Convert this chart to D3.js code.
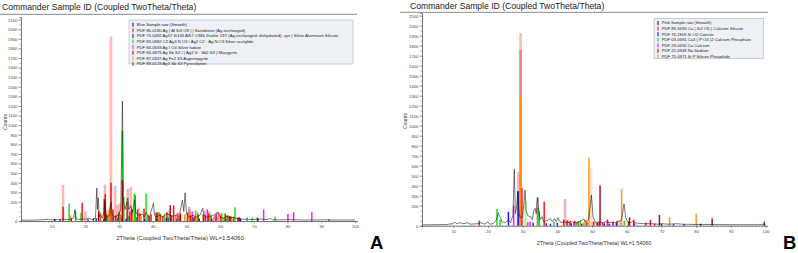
<!DOCTYPE html>
<html>
<head>
<meta charset="utf-8">
<script src="https://cdn.jsdelivr.net/npm/d3@7"></script>
<style>
  body { margin: 0; background: #fff; }
  svg { display: block; font-family: "Liberation Sans", Arial, sans-serif; }
</style>
</head>
<body>
<script>
// Tick values shared by both panels
var countTicks = [0, 200, 300, 400, 500, 600, 700, 800, 900, 1000, 1100, 1200, 1300, 1400, 1500, 1600, 1700, 1800, 1900, 2000, 2100];
var thetaTicks = [10, 20, 30, 40, 50, 60, 70, 80, 90, 100];

var chartTitle = "Commander Sample ID (Coupled TwoTheta/Theta)";
var xTitle = "2Theta (Coupled TwoTheta/Theta) WL=1.54060";

// ---------- Panel A ----------
var legendA = [
  "Blue Sample.raw (Smooth)",
  "PDF 86-0180 Ag ( Al Si3 O8 ) | Sanidinine (Ag-exchanged)",
  "PDF 73-0482 Ag57 Si135 Al57 O384 Zeolite 13Y (Ag-exchanged, dehydrated), syn | Silver Aluminum Silicate",
  "PDF 83-0882 C2 Ag3 N O3 / Ag2 C2 · Ag N O3 Silver acetylide",
  "PDF 84-0559 Ag I O4 Silver Iodate",
  "PDF 84-0875 Ag Sb S2 / ( Ag2 S · Sb2 S3 ) Miargyrite",
  "PDF 87-0347 Ag Fe2 S3 Argentopyrite",
  "PDF 89-0129 Ag3 Sb S3 Pyrostilpnite"
];

// smoothed scan, [2theta, counts]
var sampleA = [[1,8],[5,10],[8,14],[9,20],[9.5,12],[12,14],[13.3,20],[13.5,12],[15,16],[16.5,30],[16.9,120],[17.2,25],[18,15],[19,20],[20,18],[21,30],[21.5,22],[22,15],[23,30],[23.4,345],[23.6,120],[23.8,242],[24.1,40],[24.5,60],[25,30],[25.5,90],[25.8,210],[26.1,100],[26.5,40],[27.2,60],[27.6,200],[28,60],[28.5,50],[29,40],[29.5,60],[30,80],[30.5,120],[31,1250],[31.3,200],[31.8,120],[32.3,200],[32.6,240],[32.9,120],[33.5,160],[34,90],[34.6,220],[35,80],[36,60],[37,70],[37.5,40],[38,90],[39,40],[40.2,184],[40.5,60],[41,40],[42,60],[43,40],[44,80],[45,60],[46,50],[47,60],[48,80],[48.8,218],[49.2,100],[49.6,294],[50,80],[50.5,50],[51,40],[52,60],[53,40],[54,60],[54.8,132],[55.2,60],[56,40],[57,50],[58,60],[59.4,90],[60,40],[61,30],[62,50],[63,30],[64,40],[65,25],[66,20],[68,18],[70,15],[72,20],[74,15],[75,30],[75.5,12],[78,12],[80,15],[85,10],[90,12],[95,10],[100,10]];

var redA = [[13.4,150],[19.05,190],[24,107],[24.5,80],[25.6,230],[25.9,280],[27.6,398],[28.2,120],[29,60],[30,90],[30.5,60],[32.4,200],[33.2,100],[34.8,267],[35.5,120],[36.2,80],[37.4,130],[38.6,60],[39.5,70],[41.5,90],[42.3,70],[43,50],[44.2,90],[45.6,60],[46.2,163],[47.5,60],[48.2,80],[50.3,90],[51.2,60],[52.4,50],[53.5,70],[55.6,60],[56.5,80],[57.3,50],[58.8,70],[60.2,60],[61.5,80],[62.3,60],[63.2,50],[64,40],[65.2,35],[66,30]];
var redFaintA = [[13.4,375],[20,97],[27.6,1925],[28.8,370],[29.5,170],[30.2,180],[33.5,356],[35.8,140],[44.8,110],[47.2,90],[51,120],[56.8,100],[59.8,85]];
var blueA = [[10.9,20],[12.5,15],[15.8,25],[20.8,18],[23.2,30],[25.5,20],[27,25],[30.8,35],[32.1,25],[33.9,30],[37.6,20],[41.2,20],[44,30],[47,25],[51.8,20],[53.8,25],[57.5,20],[61.8,18],[66,15]];
var greenA = [[15.2,184],[17.1,100],[18.7,86],[31,940],[31.4,250],[34.5,287],[34.8,270],[38,287],[42,90],[43.5,70],[48,60],[52.7,110],[53.3,90],[57,70],[60.5,80],[62,60],[64.4,142],[68,38],[69.5,35],[71,40],[76.3,45]];
var magentaA = [[29.5,30],[30.6,40],[51.7,97],[56.2,121],[58.5,60],[72.9,121],[80.1,73],[81.8,93],[87.2,93],[92.3,20]];
var maroonA = [[23.9,80],[25.8,150],[26.4,60],[31,425],[33.8,120],[41,90],[45.2,166],[48.2,70],[55,70],[62.8,50],[65.6,40],[71.2,30]];
var maroonFaintA = [[25.8,380],[32.6,335],[50.8,148],[55.5,110],[59.2,95]];
var orangeA = [[15.5,62],[24.3,90],[26.8,114],[27.2,150],[30.3,55],[34,60],[36.5,50],[41.8,40],[46.8,55],[49.5,70],[50.6,80],[53,40],[58,45],[61,35],[63.5,30]];
var darkGreenA = [[22.4,30],[26.2,60],[28.3,45],[29.8,70],[33,50],[35.3,40],[39,45],[44.6,35],[52,40],[61.5,30]];

// ---------- Panel B ----------
var legendB = [
  "Pink Sample.raw (Smooth)",
  "PDF 89-5694 Ca ( Si2 O5 ) Calcium Silicate",
  "PDF 76-1805 Si O2 Coesite",
  "PDF 03-0681 Ca3 ( P O4 )2 Calcium Phosphate",
  "PDF 23-0430 Ca Calcium",
  "PDF 22-0948 Na Sodium",
  "PDF 75-0971 Si P Silicon Phosphide"
];

var sampleB = [[1,8],[5,10],[8,12],[10,20],[10.5,35],[11,20],[12,30],[13,20],[14,30],[15,15],[17,20],[18,30],[19,15],[20,40],[20.5,15],[21.5,20],[22.5,60],[23,130],[23.3,100],[23.6,80],[24,40],[25,30],[25.9,60],[26.5,30],[27.2,100],[27.6,564],[27.9,120],[28.3,200],[28.6,340],[28.9,150],[29.2,80],[30,90],[30.7,357],[31,150],[31.5,100],[32,90],[32.3,95],[32.8,60],[33.2,150],[33.6,174],[33.9,120],[34.3,284],[34.6,150],[35,60],[35.6,90],[36,40],[37,50],[38,70],[38.5,40],[39.2,70],[39.7,40],[40.2,80],[40.6,50],[41,30],[42,40],[43,30],[44,40],[45,30],[46,35],[47.6,65],[48,40],[49,60],[49.8,307],[50.3,80],[51,30],[52,40],[53,30],[54,40],[55,30],[56,35],[57,30],[58.5,60],[59.2,217],[59.7,80],[60.2,40],[61,30],[62,45],[62.3,30],[63,25],[65,20],[67,20],[69,15],[70,20],[72,15],[74,20],[76,15],[80,12],[85,12],[90,10],[95,10],[100,10]];

var redB = [[17.5,50],[29.8,374],[36.2,240],[41.8,60],[42.8,55],[43.6,45],[45,50],[46,40],[48.5,40],[50.5,40],[52,35],[53,30],[54.5,50],[56,40],[57.2,50],[60.5,40],[62,60],[65.5,30],[66.8,60],[68,20]];
var redFaintB = [[29.4,1925],[28.7,534],[43,60],[50.2,45],[58,50]];
var blueB = [[25.9,140],[28.7,347],[33,30],[36.8,25],[38,20],[40,30],[44,25],[47,20],[51.5,30],[53.5,25],[55,20],[57,25],[62,20],[70,20],[73.5,15],[76.5,15],[81.3,20]];
var greenB = [[22.6,167],[23.5,60],[34.4,180],[34.8,150],[39,40],[45.5,40],[46.6,50],[47.6,30],[59.3,50]];
var greenFaintB = [[30.8,240]];
var magentaB = [[27.4,200],[31.5,35],[32.2,40],[44.8,40],[54.4,64],[56,30],[62.2,25]];
var maroonB = [[52.3,404],[60.8,85],[69.4,107],[84.6,74],[99.6,40]];
var maroonFaintB = [[29.4,1757],[34.3,280],[42.2,267]];
var orangeB = [[29.4,1290],[48,60],[49.1,680],[58.5,367],[72.3,84],[80,120]];
var orangeFaintB = [[49.7,574]];

// ---------- drawing ----------
var svgWidth = 798, svgHeight = 253;
var svg = d3.select("body").append("svg")
  .attr("width", svgWidth)
  .attr("height", svgHeight);

var colors = {
  black: "#000000", red: "#ff0000", blue: "#0000ff", green: "#00e000",
  magenta: "#ff00ff", maroon: "#990000", orange: "#ff8c00", darkGreen: "#007a00"
};

function drawPanel(p) {
  var g = svg.append("g");
  var x = d3.scaleLinear().domain(p.xDomain).range(p.xRange);
  var y = d3.scaleLinear().domain(p.yDomain).range(p.yRange);

  // title + rule under it
  g.append("text")
    .attr("x", p.titleX).attr("y", p.titleY)
    .attr("font-size", 8.6).attr("fill", "#222")
    .text(chartTitle);
  g.append("line")
    .attr("x1", p.ruleX[0]).attr("x2", p.ruleX[1])
    .attr("y1", p.ruleY).attr("y2", p.ruleY)
    .attr("stroke", "#8a8a8a").attr("stroke-width", 1);

  // reference sticks: faint ones first, solid on top
  p.phases.forEach(function(ph) {
    if (ph.faint) {
      g.append("g").selectAll("rect").data(ph.faint).join("rect")
        .attr("x", d => x(d[0]) - 1.3).attr("width", 2.6)
        .attr("y", d => y(d[1])).attr("height", d => y(0) - y(d[1]))
        .attr("fill", ph.color).attr("opacity", 0.28);
    }
  });
  p.phases.forEach(function(ph) {
    if (ph.sticks) {
      g.append("g").selectAll("rect").data(ph.sticks).join("rect")
        .attr("x", d => x(d[0]) - 0.75).attr("width", 1.5)
        .attr("y", d => y(d[1])).attr("height", d => y(0) - y(d[1]))
        .attr("fill", ph.color).attr("opacity", 0.9);
    }
  });

  // smoothed scan
  var drawLine = d3.line().x(d => x(d[0])).y(d => y(d[1]));
  g.append("path")
    .attr("d", drawLine(p.sample))
    .attr("fill", "none").attr("stroke", "#111")
    .attr("stroke-width", 0.7).attr("opacity", 0.8);

  // y axis
  g.append("g").attr("transform", `translate(${p.xRange[0]},0)`)
    .call(d3.axisLeft(y).tickValues(d3.range(0, 2101, 50)).tickSize(1.5).tickFormat(""));
  var yMajor = g.append("g").attr("transform", `translate(${p.xRange[0]},0)`)
    .call(d3.axisLeft(y).tickValues(countTicks).tickSize(2.6).tickPadding(1).tickFormat(d3.format("d")));
  yMajor.select(".domain").remove();

  // x axis
  g.append("g").attr("transform", `translate(0,${p.yRange[0]})`)
    .call(d3.axisBottom(x).tickValues(d3.range(1, 101, 1)).tickSize(1.4).tickFormat(""));
  var xMajor = g.append("g").attr("transform", `translate(0,${p.yRange[0]})`)
    .call(d3.axisBottom(x).tickValues(thetaTicks).tickSize(2.4).tickPadding(1.5).tickFormat(d3.format("d")));
  xMajor.select(".domain").remove();

  g.selectAll(".domain").attr("stroke", "#555").attr("stroke-width", 0.8);
  g.selectAll(".tick line").attr("stroke", "#666").attr("stroke-width", 0.5);
  g.selectAll(".tick text").attr("font-size", 4.2).attr("fill", "#444")
    .attr("font-family", "Liberation Sans, Arial, sans-serif");

  // axis titles
  g.append("text")
    .attr("transform", `translate(${p.countsX},${p.countsY}) rotate(-90)`)
    .attr("text-anchor", "middle").attr("font-size", 5).attr("fill", "#333")
    .text("Counts");
  g.append("text")
    .attr("x", p.xTitleX).attr("y", p.xTitleY)
    .attr("text-anchor", "middle").attr("font-size", p.xTitleSize).attr("fill", "#333")
    .text(xTitle);

  // legend
  var lg = g.append("g");
  lg.append("rect")
    .attr("x", p.legend.x).attr("y", p.legend.y)
    .attr("width", p.legend.w).attr("height", p.legend.h)
    .attr("fill", "#edf1f6").attr("stroke", "#a7b5c4").attr("stroke-width", 0.6);
  var rows = lg.selectAll("g.row").data(p.legend.labels).join("g")
    .attr("class", "row")
    .attr("transform", (d, i) => `translate(${p.legend.x + 3.5},${p.legend.y + 2.7 + i * p.legend.step})`);
  rows.append("rect")
    .attr("x", 0).attr("y", 0).attr("width", 1).attr("height", 4)
    .attr("fill", (d, i) => p.legend.colors[i]);
  rows.append("text")
    .attr("x", 4.2).attr("y", 3.4)
    .attr("font-size", 4.2).attr("fill", "#222")
    .text(d => d);

  // panel letter
  g.append("text")
    .attr("x", p.letterX).attr("y", 248.5)
    .attr("font-size", 18.5).attr("font-weight", "bold").attr("fill", "#000")
    .text(p.letter);
}

drawPanel({
  xDomain: [0.9, 100.6], xRange: [21, 357],
  yDomain: [0, 2128], yRange: [221, 17],
  titleX: 2, titleY: 10, ruleX: [0, 357], ruleY: 14.3,
  countsX: 7, countsY: 122,
  xTitleX: 180, xTitleY: 240, xTitleSize: 6,
  letter: "A", letterX: 370,
  sample: sampleA,
  phases: [
    { color: colors.red, sticks: redA, faint: redFaintA },
    { color: colors.blue, sticks: blueA },
    { color: colors.green, sticks: greenA },
    { color: colors.magenta, sticks: magentaA },
    { color: colors.maroon, sticks: maroonA, faint: maroonFaintA },
    { color: colors.orange, sticks: orangeA },
    { color: colors.darkGreen, sticks: darkGreenA }
  ],
  legend: {
    x: 129, y: 20, w: 224, h: 44, step: 5.6, labels: legendA,
    colors: [colors.black, colors.red, colors.blue, colors.green, colors.magenta, colors.maroon, colors.orange, colors.darkGreen]
  }
});

drawPanel({
  xDomain: [1, 100.4], xRange: [422, 767],
  yDomain: [0, 2127], yRange: [225.7, 13],
  titleX: 410, titleY: 9, ruleX: [400, 768], ruleY: 12.3,
  countsX: 407, countsY: 121,
  xTitleX: 594, xTitleY: 245, xTitleSize: 5.4,
  letter: "B", letterX: 783,
  sample: sampleB,
  phases: [
    { color: colors.red, sticks: redB, faint: redFaintB },
    { color: colors.blue, sticks: blueB },
    { color: colors.green, sticks: greenB, faint: greenFaintB },
    { color: colors.magenta, sticks: magentaB },
    { color: colors.maroon, sticks: maroonB, faint: maroonFaintB },
    { color: colors.orange, sticks: orangeB, faint: orangeFaintB }
  ],
  legend: {
    x: 654, y: 18.3, w: 109.3, h: 40.4, step: 5.55, labels: legendB,
    colors: [colors.black, colors.red, colors.blue, colors.green, colors.magenta, colors.maroon, colors.orange]
  }
});
</script>
</body>
</html>
